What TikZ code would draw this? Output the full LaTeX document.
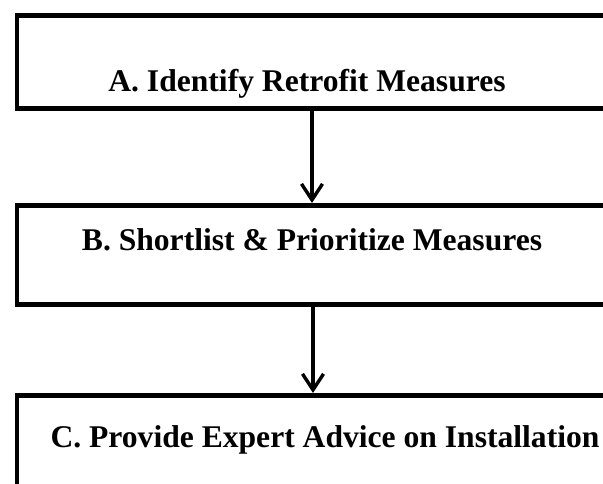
\documentclass[tikz,border=0pt]{standalone}
\usepackage{fontspec}
\setmainfont{Liberation Serif}
\usetikzlibrary{arrows.meta}
\begin{document}
\begin{tikzpicture}[x=1pt,y=1pt,
  stagebox/.style={draw=black, line width=4.8pt, fill=none, inner sep=0pt, anchor=north west},
  stagetext/.style={font=\bfseries\fontsize{31.6}{36}\selectfont, inner sep=0pt, anchor=base},
  flow/.style={line width=3.4pt, -{Straight Barb[length=16pt,width=21pt,line width=3.4pt]}}]
\useasboundingbox (0,0) rectangle (603,-484);
\clip (0,0) rectangle (603,-484);
% three stage boxes, running past the right edge
\node[stagebox, minimum width=640pt, minimum height=93.5pt] (boxA) at (14.5,-13) {};
\node[stagebox, minimum width=640pt, minimum height=99pt] (boxB) at (14.5,-203) {};
\node[stagebox, minimum width=640pt, minimum height=120pt] (boxC) at (14.5,-393) {};
% stage labels
\node[stagetext] (textA) at (307,-92) {A. Identify Retrofit Measures};
\node[stagetext] (textB) at (312,-251) {B. Shortlist \& Prioritize Measures};
\node[stagetext] (textC) at (325,-447) {C. Provide Expert Advice on Installation};
% connectors between stages
\coordinate (a1) at (312,-106.5);
\coordinate (b1) at (312,-203);
\coordinate (b2) at (313,-302);
\coordinate (c1) at (313,-393);
\draw[flow] (a1 |- boxA.south) -- (b1 |- boxB.north);
\draw[flow] (b2 |- boxB.south) -- (c1 |- boxC.north);
\end{tikzpicture}
\end{document}
